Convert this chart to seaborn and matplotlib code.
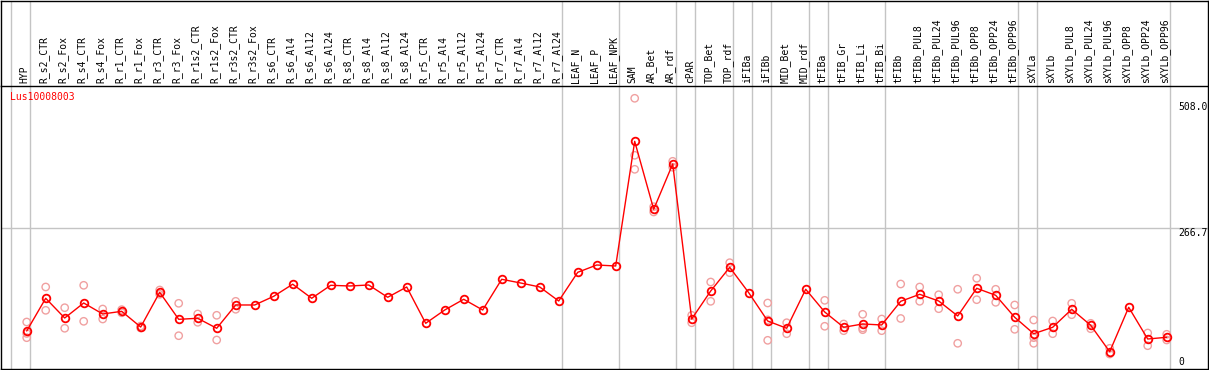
import numpy as np
import pandas as pd
import matplotlib
matplotlib.use("Agg")
import matplotlib.pyplot as plt
import seaborn as sns

samples = ["HYP", "R_s2_CTR", "R_s2_Fox", "R_s4_CTR", "R_s4_Fox", "R_r1_CTR", "R_r1_Fox",
           "R_r3_CTR", "R_r3_Fox", "R_r1s2_CTR", "R_r1s2_Fox", "R_r3s2_CTR", "R_r3s2_Fox",
           "R_s6_CTR", "R_s6_Al4", "R_s6_Al12", "R_s6_Al24", "R_s8_CTR", "R_s8_Al4",
           "R_s8_Al12", "R_s8_Al24", "R_r5_CTR", "R_r5_Al4", "R_r5_Al12", "R_r5_Al24",
           "R_r7_CTR", "R_r7_Al4", "R_r7_Al12", "R_r7_Al24", "LEAF_N", "LEAF_P", "LEAF_NPK",
           "SAM", "AR_Bet", "AR_rdf", "cPAR", "TOP_Bet", "TOP_rdf", "iFIBa", "iFIBb",
           "MID_Bet", "MID_rdf", "tFIBa", "tFIB_Gr", "tFIB_Li", "tFIB_Bi", "tFIBb",
           "tFIBb_PUL8", "tFIBb_PUL24", "tFIBb_PUL96", "tFIBb_OPP8", "tFIBb_OPP24",
           "tFIBb_OPP96", "sXYLa", "sXYLb", "sXYLb_PUL8", "sXYLb_PUL24", "sXYLb_PUL96",
           "sXYLb_OPP8", "sXYLb_OPP24", "sXYLb_OPP96"]

mean_vals = [70.7, 133.2, 95.5, 124.2, 103.2, 108.3, 78.3, 144.6, 93.0, 95.0, 75.9, 120.4, 120.4,
             137.0, 160.1, 133.2, 158.0, 156.7, 158.6, 135.1, 154.8, 85.4, 110.8, 131.3, 110.8,
             169.5, 162.4, 154.8, 128.0, 182.8, 196.8, 194.9,
             433.1, 303.2, 389.8, 93.6, 147.1, 192.4, 143.9, 89.8, 75.9, 150.4, 107.0, 77.8,
             84.1, 82.2, 127.4, 140.8, 128.0, 99.4, 152.3, 138.9, 96.9, 65.5, 77.8, 112.2,
             81.6, 31.1, 116.0, 55.4, 58.7]

N = None
rep_a = [87.9, 154.8, 115.2, 158.0, 112.7, 111.5, 80.2, 149.0, 123.6, 103.2, 100.7, 127.4, N,
         N, N, N, N, N, N, N, N, N, N, N, N, N, N, N, N, N, N, N,
         515.3, 308.2, 394.9, 100.7, 164.3, 201.2, N, 124.2, 86.5, N, 129.3, 84.1,
         102.6, 93.6, 160.5, 154.8, 140.0, 150.4, 171.4, 150.4, 120.4, 91.7, 89.8, 123.6,
         85.4, 37.6, N, 66.9, 64.4]
rep_b = [57.9, 110.2, 75.9, 89.2, 93.6, 105.5, 76.4, 140.8, 61.7, 87.3, 53.5, 112.2, N,
         N, N, N, N, N, N, N, N, N, N, N, N, N, N, N, N, N, N, N,
         379.6, 298.1, 383.5, 86.5, 127.4, 182.1, N, 52.9, 65.5, N, 79.7, 71.3,
         73.2, 71.3, 94.6, 127.4, 113.3, 47.2, 130.5, 125.5, 73.9, 47.2, 65.5, 101.8,
         75.1, 26.7, N, 42.6, 53.5]
rep_c = [66.0, N, N, N, N, N, N, N, N, N, N, N, N,
         N, N, N, N, N, N, N, N, N, N, N, N, N, N, N, N, N, N, N,
         406.4, N, N, N, N, N, N, 92.0, N, N, N, N,
         76.5, N, N, N, N, N, N, N, N, 58.0, N, N,
         N, N, N, N, N]

group_ends = [-1, 0, 28, 31, 34, 35, 37, 38, 39, 41, 42, 45, 52, 53, 60]
grid_vals = [266.7]
axis_labels = [(508.0, "508.0"), (266.7, "266.7"), (0.0, "0")]
gene = "Lus10008003"

sns.set_style("white")
plt.rcParams["font.family"] = ["DejaVu Sans Mono", "DejaVu Sans"]

W, H = 1209, 370
fig = plt.figure(figsize=(W / 100, H / 100), dpi=100)

def fx(px):
    return px / W

def fy(py):
    return 1 - py / H

x_left, x_right = 1, 1208
y_top_plot, y_bot = 86, 369
ax = fig.add_axes([fx(x_left), fy(y_bot), fx(x_right) - fx(x_left), fy(y_top_plot) - fy(y_bot)])
hax = fig.add_axes([fx(x_left), fy(y_top_plot), fx(x_right) - fx(x_left), fy(0.5) - fy(y_top_plot)],
                   sharex=ax)

x0, dx = 26.7, 19.0
ax.set_xlim((x_left - x0) / dx, (x_right - x0) / dx)
scale = 1.9106
ax.set_ylim((368 - y_bot) * scale, (368 - y_top_plot) * scale)
hax.set_ylim(0, 1)

idx = np.arange(len(samples))
df_mean = pd.DataFrame({"x": idx, "y": mean_vals})
rows = []
for i in idx:
    for r in (rep_a[i], rep_b[i], rep_c[i]):
        if r is not None:
            rows.append({"x": i, "y": r})
df_rep = pd.DataFrame(rows)

for g in grid_vals:
    ax.axhline(g, color="#c4c4c4", lw=1, zorder=0)
for e in group_ends:
    ax.axvline(e + 0.19, color="#c4c4c4", lw=1, zorder=0)
    hax.axvline(e + 0.19, color="#c4c4c4", lw=1, zorder=0)

sns.scatterplot(data=df_rep, x="x", y="y", ax=ax, marker="o", s=28,
                facecolor="none", edgecolor="#f0a0a0", linewidth=1.0, zorder=2, legend=False)
sns.lineplot(data=df_mean, x="x", y="y", ax=ax, estimator=None, color="red", lw=1.0,
             marker="o", markersize=5.5, markerfacecolor="none", markeredgecolor="red",
             markeredgewidth=1.3, zorder=3, legend=False)

for i, s in enumerate(samples):
    hax.text(i - 0.1, 0.04, s, rotation=90, ha="center", va="bottom", fontsize=7, color="black")

for v, t in axis_labels:
    if v == 0:
        ax.text((1178 - x0) / dx, v + 2, t, ha="left", va="bottom", fontsize=7, color="black")
    else:
        ax.text((1178 - x0) / dx, v, t, ha="left", va="top", fontsize=7, color="black", clip_on=True)

ax.text((10 - x_left) / (x_right - x_left), (y_bot - 97) / (y_bot - y_top_plot), gene,
        transform=ax.transAxes, ha="left", va="center", fontsize=7, color="red")

for a in (ax, hax):
    a.set_xticks([])
    a.set_yticks([])
    a.set_xlabel("")
    a.set_ylabel("")
    for sp in a.spines.values():
        sp.set_visible(True)
        sp.set_color("black")
        sp.set_linewidth(1.0)
ax.spines["top"].set_visible(False)

fig.savefig("out.png", dpi=100, facecolor="white")
